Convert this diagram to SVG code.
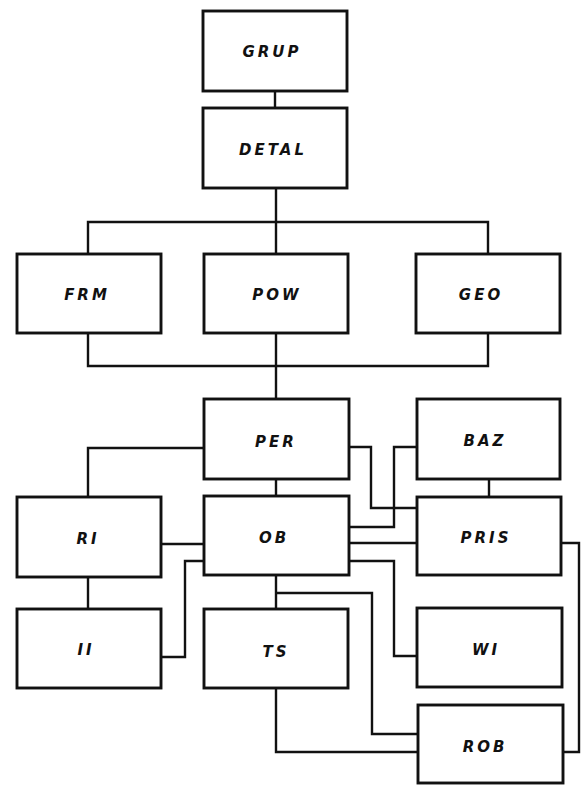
<svg xmlns="http://www.w3.org/2000/svg" width="582" height="785" viewBox="0 0 582 785">
<style>
.box{fill:#fff;stroke:#111;stroke-width:2.9}
.lbl{font-family:"DejaVu Sans",sans-serif;font-size:15px;font-weight:bold;font-style:oblique;letter-spacing:3px;text-anchor:middle;fill:#111}
.con{fill:none;stroke:#111;stroke-width:2.4;stroke-linejoin:miter}
</style>
<rect width="582" height="785" fill="#fff"/>
<g id="connectors" class="con">
<path d="M275 91V108"/>
<path d="M276 188V254"/>
<path d="M88 254V222H488V254"/>
<path d="M88 333V366H488V333"/>
<path d="M276 333V399"/>
<path d="M204 448H88V497"/>
<path d="M276 479V496"/>
<path d="M489 479V497"/>
<path d="M161 544H204"/>
<path d="M88 577V609"/>
<path d="M204 561H185V657H161"/>
<path d="M349 447H371V508H417"/>
<path d="M417 447H394V527H349"/>
<path d="M349 543H417"/>
<path d="M349 561H394V656H417"/>
<path d="M561 543H579V752H563"/>
<path d="M276 575V609"/>
<path d="M276 593H372V734H418"/>
<path d="M276 688V752H418"/>
</g>
<g id="GRUP"><rect class="box" x="203" y="11" width="144" height="80"/><text class="lbl" x="272" y="57">GRUP</text></g>
<g id="DETAL"><rect class="box" x="203" y="108" width="144" height="80"/><text class="lbl" x="273" y="155">DETAL</text></g>
<g id="FRM"><rect class="box" x="17" y="254" width="144" height="79"/><text class="lbl" x="87" y="300">FRM</text></g>
<g id="POW"><rect class="box" x="204" y="254" width="144" height="79"/><text class="lbl" x="277" y="300">POW</text></g>
<g id="GEO"><rect class="box" x="416" y="254" width="144" height="79"/><text class="lbl" x="481" y="300">GEO</text></g>
<g id="PER"><rect class="box" x="204" y="399" width="145" height="80"/><text class="lbl" x="276" y="447">PER</text></g>
<g id="BAZ"><rect class="box" x="417" y="399" width="143" height="80"/><text class="lbl" x="485" y="446">BAZ</text></g>
<g id="RI"><rect class="box" x="17" y="497" width="144" height="80"/><text class="lbl" x="88" y="544">RI</text></g>
<g id="OB"><rect class="box" x="204" y="496" width="145" height="79"/><text class="lbl" x="274" y="543">OB</text></g>
<g id="PRIS"><rect class="box" x="417" y="497" width="144" height="78"/><text class="lbl" x="486" y="543">PRIS</text></g>
<g id="II"><rect class="box" x="17" y="609" width="144" height="79"/><text class="lbl" x="86" y="655">II</text></g>
<g id="TS"><rect class="box" x="204" y="609" width="144" height="79"/><text class="lbl" x="276" y="657">TS</text></g>
<g id="WI"><rect class="box" x="417" y="608" width="145" height="79"/><text class="lbl" x="486" y="655">WI</text></g>
<g id="ROB"><rect class="box" x="418" y="705" width="145" height="78"/><text class="lbl" x="485" y="752">ROB</text></g>
</svg>
